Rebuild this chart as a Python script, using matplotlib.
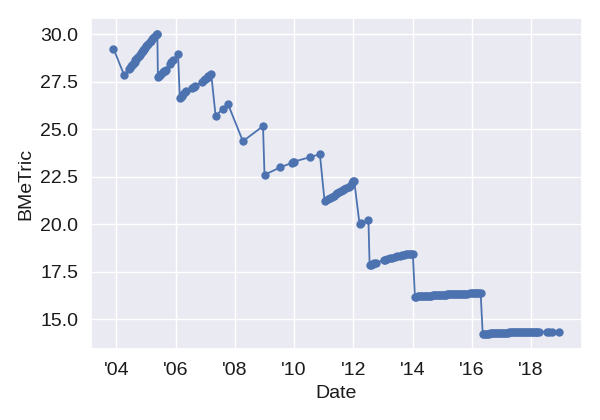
import matplotlib
matplotlib.use("Agg")
import matplotlib.pyplot as plt
import seaborn as sns

# decimal year and BMeTric value
years = [
    2003.90, 2004.26,
    2004.43, 2004.46, 2004.49, 2004.52, 2004.55, 2004.58, 2004.61, 2004.64, 2004.67, 2004.70,
    2004.73, 2004.76, 2004.79, 2004.82, 2004.85, 2004.88, 2004.91, 2004.94, 2004.97, 2005.00,
    2005.04, 2005.08, 2005.12, 2005.16, 2005.20, 2005.24, 2005.28, 2005.32, 2005.36, 2005.38,
    2005.40, 2005.44, 2005.48, 2005.52, 2005.56, 2005.60, 2005.64, 2005.68,
    2005.80, 2005.85, 2005.91, 2006.08,
    2006.14, 2006.18, 2006.22, 2006.26, 2006.30, 2006.34,
    2006.55, 2006.61, 2006.64, 2006.90, 2006.94, 2006.98, 2007.05, 2007.10, 2007.15, 2007.20,
    2007.35, 2007.60, 2007.77, 2008.27, 2008.95,
    2009.00, 2009.53, 2009.92, 2009.96, 2010.00, 2010.52, 2010.87,
    2011.03, 2011.14, 2011.22, 2011.28, 2011.34, 2011.40, 2011.46, 2011.52, 2011.58, 2011.64,
    2011.70, 2011.76, 2011.84, 2011.90, 2011.96, 2012.00, 2012.03,
    2012.21, 2012.27, 2012.51,
    2012.55, 2012.58, 2012.62, 2012.66, 2012.70, 2012.78, 2013.02, 2013.08, 2013.14, 2013.24,
    2013.32, 2013.40, 2013.48, 2013.56, 2013.64, 2013.72, 2013.78, 2013.84, 2013.90, 2013.96,
    2014.01,
    2014.08, 2014.13, 2014.18, 2014.23, 2014.28, 2014.33, 2014.38, 2014.43, 2014.48, 2014.53,
    2014.58, 2014.63, 2014.68, 2014.73, 2014.78, 2014.83, 2014.88, 2014.93, 2014.98, 2015.03,
    2015.08, 2015.13, 2015.18, 2015.23, 2015.28, 2015.33, 2015.38, 2015.43, 2015.48, 2015.53,
    2015.58, 2015.63, 2015.68, 2015.73, 2015.78, 2015.83, 2015.95, 2016.00, 2016.05, 2016.10,
    2016.15, 2016.20, 2016.25, 2016.30,
    2016.37, 2016.42, 2016.47, 2016.52, 2016.57, 2016.62, 2016.67, 2016.72, 2016.77, 2016.82,
    2016.87, 2016.92, 2016.97, 2017.02, 2017.07, 2017.12, 2017.17, 2017.22, 2017.27, 2017.32,
    2017.37, 2017.42, 2017.47, 2017.52, 2017.57, 2017.62, 2017.67, 2017.72, 2017.77, 2017.82,
    2017.87, 2017.92, 2017.97, 2018.02, 2018.07, 2018.12, 2018.17, 2018.22, 2018.28,
    2018.55, 2018.62, 2018.70, 2018.96,
]
bmetric = [
    29.25, 27.86,
    28.20, 28.26, 28.32, 28.38, 28.45, 28.51, 28.57, 28.63, 28.69, 28.75,
    28.82, 28.88, 28.94, 29.00, 29.06, 29.12, 29.18, 29.24, 29.31, 29.37,
    29.44, 29.52, 29.60, 29.67, 29.74, 29.81, 29.88, 29.95, 30.01, 30.05,
    27.77, 27.82, 27.88, 27.94, 28.00, 28.05, 28.10, 28.14,
    28.47, 28.56, 28.68, 28.96,
    26.63, 26.70, 26.78, 26.86, 26.95, 27.00,
    27.18, 27.24, 27.28, 27.52, 27.58, 27.63, 27.72, 27.80, 27.86, 27.91,
    25.70, 26.10, 26.32, 24.38, 25.17,
    22.61, 23.00, 23.24, 23.28, 23.31, 23.53, 23.70,
    21.21, 21.32, 21.40, 21.46, 21.52, 21.58, 21.64, 21.70, 21.76, 21.82,
    21.87, 21.92, 21.98, 22.04, 22.20, 22.26, 22.29,
    20.02, 20.06, 20.23,
    17.86, 17.88, 17.90, 17.92, 17.95, 17.99, 18.12, 18.15, 18.18, 18.22,
    18.25, 18.28, 18.31, 18.34, 18.37, 18.40, 18.42, 18.43, 18.44, 18.44,
    18.44,
    16.19, 16.20, 16.21, 16.21, 16.22, 16.22, 16.23, 16.23, 16.24, 16.24,
    16.25, 16.25, 16.26, 16.26, 16.27, 16.27, 16.28, 16.28, 16.29, 16.29,
    16.30, 16.30, 16.31, 16.31, 16.32, 16.32, 16.33, 16.33, 16.34, 16.34,
    16.35, 16.35, 16.35, 16.36, 16.36, 16.36, 16.37, 16.37, 16.38, 16.38,
    16.38, 16.38, 16.38, 16.38,
    14.23, 14.24, 14.24, 14.25, 14.25, 14.26, 14.26, 14.27, 14.27, 14.28,
    14.28, 14.28, 14.29, 14.29, 14.29, 14.30, 14.30, 14.30, 14.31, 14.31,
    14.31, 14.32, 14.32, 14.32, 14.33, 14.33, 14.33, 14.34, 14.34, 14.34,
    14.34, 14.35, 14.35, 14.35, 14.35, 14.35, 14.35, 14.35, 14.35,
    14.35, 14.35, 14.35, 14.35,
]

tick_years = [2004, 2006, 2008, 2010, 2012, 2014, 2016, 2018]
tick_labels = ["'04", "'06", "'08", "'10", "'12", "'14", "'16", "'18"]

sns.set_theme(style="darkgrid")
plt.rcParams["font.family"] = ["Liberation Sans", "DejaVu Sans"]

fig, ax = plt.subplots(figsize=(6, 4.2), dpi=100)
fig.subplots_adjust(left=0.152, right=0.9695, bottom=0.169, top=0.956)

ax.plot(years, bmetric, "-o", color="#4C72B0", lw=1.3, markersize=5)

ax.set_xticks(tick_years)
ax.set_xticklabels(tick_labels)
ax.tick_params(labelsize=14, labelcolor="0.1")
ax.set_xlabel("Date", fontsize=14, color="0.1")
ax.set_ylabel("BMeTric", fontsize=14, color="0.1")

fig.savefig("out.png", dpi=100)
